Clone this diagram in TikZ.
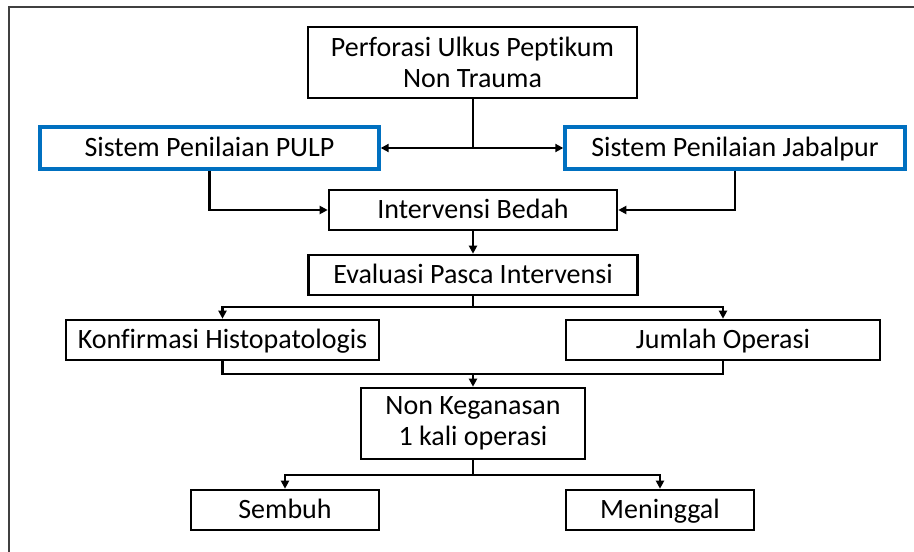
\documentclass[tikz,border=0pt]{standalone}
\usepackage{fontspec}
\setmainfont{Carlito}[Ligatures=NoCommon]
\usetikzlibrary{positioning, arrows.meta}
\definecolor{scoreblue}{RGB}{0,112,192}

\begin{document}
\begin{tikzpicture}[x=1pt, y=-1pt,
    frame/.style={draw, line width=2.6pt, inner sep=0pt, font=\fontsize{28}{31}\selectfont},
    onebox/.style={frame, text height=17.5pt, text depth=0pt},
    twobox/.style={frame, align=center},
    scorebox/.style={onebox, draw=scoreblue, line width=3.4pt},
    wire/.style={line width=2.5pt},
    >={Triangle[length=8pt, width=8pt]}
    ]
\useasboundingbox (0,0) rectangle (914,552);
\draw[line width=2pt, black!75] (9,552) -- (9,6.5) -- (914,6.5);

\node[twobox, minimum width=329pt, minimum height=71pt] (perf) at (472.5,62.5) {Perforasi Ulkus Peptikum\\Non Trauma};
\node[scorebox, minimum width=339pt, minimum height=42pt] (pulp) at (209.5,148) {Sistem Penilaian PULP};
\node[scorebox, minimum width=340pt, minimum height=42pt] (jbl) at (735,148) {Sistem Penilaian Jabalpur};
\node[onebox, minimum width=288pt, minimum height=40pt] (bedah) at (473,210) {Intervensi Bedah};
\node[onebox, minimum width=329pt, minimum height=40pt, below=22.4pt of bedah] (eval) {Evaluasi Pasca Intervensi};
\node[onebox, minimum width=313pt, minimum height=40pt] (histo) at (222.5,340) {Konfirmasi Histopatologis};
\node[onebox, minimum width=314pt, minimum height=40pt] (jml) at (723,340) {Jumlah Operasi};
\node[twobox, minimum width=224pt, minimum height=71pt] (nonk) at (473,423.5) {Non Keganasan\\1 kali operasi};
\node[onebox, minimum width=188pt, minimum height=40pt] (sembuh) at (285,510) {Sembuh};
\node[onebox, minimum width=188pt, minimum height=40pt] (mng) at (660,510) {Meninggal};

\coordinate (s1) at (473,148);
\coordinate (s2) at (473,307);
\coordinate (s3) at (473,374);
\coordinate (s4) at (473,475);

\draw[wire] (perf.south -| s1) -- (s1);
\draw[wire, ->] (s1) -- (pulp.east);
\draw[wire, ->] (s1) -- (jbl.west);
\draw[wire, ->] (pulp.south) |- (bedah.west);
\draw[wire, ->] (jbl.south) |- (bedah.east);
\draw[wire, ->] (bedah) -- (eval);

\draw[wire] (eval.south) -- (s2);
\draw[wire, ->] (s2) -| (histo.north);
\draw[wire, ->] (s2) -| (jml.north);

\draw[wire] (histo.south) |- (s3) -| (jml.south);
\draw[wire, ->] (s3) -- (nonk.north);

\draw[wire] (nonk.south) -- (s4);
\draw[wire, ->] (s4) -| (sembuh.north);
\draw[wire, ->] (s4) -| (mng.north);
\end{tikzpicture}
\end{document}
